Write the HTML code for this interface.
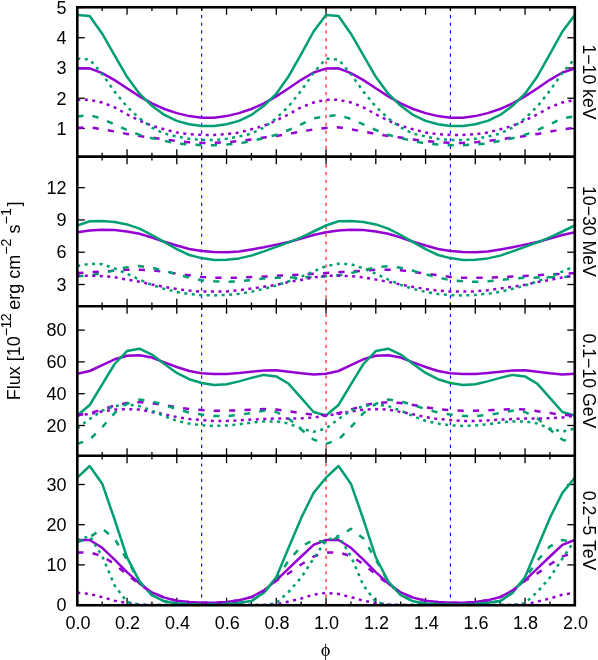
<!DOCTYPE html>
<html><head><meta charset="utf-8"><title>Flux</title>
<style>html,body{margin:0;padding:0;background:#fff}body{width:598px;height:660px;overflow:hidden}</style></head>
<body>
<svg width="598" height="660" viewBox="0 0 598 660" style="display:block;will-change:transform;font-family:'Liberation Sans',sans-serif;font-size:18px">
<rect width="598" height="660" fill="#fff"/>
<clipPath id="c0"><rect x="77.3" y="7.25" width="497.5" height="149.4"/></clipPath>
<clipPath id="c1"><rect x="77.3" y="156.65" width="497.5" height="149.55"/></clipPath>
<clipPath id="c2"><rect x="77.3" y="306.2" width="497.5" height="149.5"/></clipPath>
<clipPath id="c3"><rect x="77.3" y="455.7" width="497.5" height="149.55"/></clipPath>
<line x1="201.67" y1="7.25" x2="201.67" y2="156.65" stroke="#0000ff" stroke-width="1.1" stroke-dasharray="3.2 4.5"/>
<line x1="326.05" y1="7.25" x2="326.05" y2="156.65" stroke="#ff0000" stroke-width="1.1" stroke-dasharray="3.2 4.5"/>
<line x1="450.42" y1="7.25" x2="450.42" y2="156.65" stroke="#0000ff" stroke-width="1.1" stroke-dasharray="3.2 4.5"/>
<line x1="201.67" y1="156.65" x2="201.67" y2="306.2" stroke="#0000ff" stroke-width="1.1" stroke-dasharray="3.2 4.5"/>
<line x1="326.05" y1="156.65" x2="326.05" y2="306.2" stroke="#ff0000" stroke-width="1.1" stroke-dasharray="3.2 4.5"/>
<line x1="450.42" y1="156.65" x2="450.42" y2="306.2" stroke="#0000ff" stroke-width="1.1" stroke-dasharray="3.2 4.5"/>
<line x1="201.67" y1="306.2" x2="201.67" y2="455.7" stroke="#0000ff" stroke-width="1.1" stroke-dasharray="3.2 4.5"/>
<line x1="326.05" y1="306.2" x2="326.05" y2="455.7" stroke="#ff0000" stroke-width="1.1" stroke-dasharray="3.2 4.5"/>
<line x1="450.42" y1="306.2" x2="450.42" y2="455.7" stroke="#0000ff" stroke-width="1.1" stroke-dasharray="3.2 4.5"/>
<line x1="201.67" y1="455.7" x2="201.67" y2="605.25" stroke="#0000ff" stroke-width="1.1" stroke-dasharray="3.2 4.5"/>
<line x1="326.05" y1="455.7" x2="326.05" y2="605.25" stroke="#ff0000" stroke-width="1.1" stroke-dasharray="3.2 4.5"/>
<line x1="450.42" y1="455.7" x2="450.42" y2="605.25" stroke="#0000ff" stroke-width="1.1" stroke-dasharray="3.2 4.5"/>
<g stroke="#000" stroke-width="1.3">
<line x1="77.30" y1="7.25" x2="77.30" y2="14.75"/>
<line x1="77.30" y1="156.65" x2="77.30" y2="149.15"/>
<line x1="102.17" y1="7.25" x2="102.17" y2="11.05"/>
<line x1="102.17" y1="156.65" x2="102.17" y2="152.85"/>
<line x1="127.05" y1="7.25" x2="127.05" y2="14.75"/>
<line x1="127.05" y1="156.65" x2="127.05" y2="149.15"/>
<line x1="151.93" y1="7.25" x2="151.93" y2="11.05"/>
<line x1="151.93" y1="156.65" x2="151.93" y2="152.85"/>
<line x1="176.80" y1="7.25" x2="176.80" y2="14.75"/>
<line x1="176.80" y1="156.65" x2="176.80" y2="149.15"/>
<line x1="201.67" y1="7.25" x2="201.67" y2="11.05"/>
<line x1="201.67" y1="156.65" x2="201.67" y2="152.85"/>
<line x1="226.55" y1="7.25" x2="226.55" y2="14.75"/>
<line x1="226.55" y1="156.65" x2="226.55" y2="149.15"/>
<line x1="251.43" y1="7.25" x2="251.43" y2="11.05"/>
<line x1="251.43" y1="156.65" x2="251.43" y2="152.85"/>
<line x1="276.30" y1="7.25" x2="276.30" y2="14.75"/>
<line x1="276.30" y1="156.65" x2="276.30" y2="149.15"/>
<line x1="301.17" y1="7.25" x2="301.17" y2="11.05"/>
<line x1="301.17" y1="156.65" x2="301.17" y2="152.85"/>
<line x1="326.05" y1="7.25" x2="326.05" y2="14.75"/>
<line x1="326.05" y1="156.65" x2="326.05" y2="149.15"/>
<line x1="350.93" y1="7.25" x2="350.93" y2="11.05"/>
<line x1="350.93" y1="156.65" x2="350.93" y2="152.85"/>
<line x1="375.80" y1="7.25" x2="375.80" y2="14.75"/>
<line x1="375.80" y1="156.65" x2="375.80" y2="149.15"/>
<line x1="400.68" y1="7.25" x2="400.68" y2="11.05"/>
<line x1="400.68" y1="156.65" x2="400.68" y2="152.85"/>
<line x1="425.55" y1="7.25" x2="425.55" y2="14.75"/>
<line x1="425.55" y1="156.65" x2="425.55" y2="149.15"/>
<line x1="450.42" y1="7.25" x2="450.42" y2="11.05"/>
<line x1="450.42" y1="156.65" x2="450.42" y2="152.85"/>
<line x1="475.30" y1="7.25" x2="475.30" y2="14.75"/>
<line x1="475.30" y1="156.65" x2="475.30" y2="149.15"/>
<line x1="500.18" y1="7.25" x2="500.18" y2="11.05"/>
<line x1="500.18" y1="156.65" x2="500.18" y2="152.85"/>
<line x1="525.05" y1="7.25" x2="525.05" y2="14.75"/>
<line x1="525.05" y1="156.65" x2="525.05" y2="149.15"/>
<line x1="549.92" y1="7.25" x2="549.92" y2="11.05"/>
<line x1="549.92" y1="156.65" x2="549.92" y2="152.85"/>
<line x1="574.80" y1="7.25" x2="574.80" y2="14.75"/>
<line x1="574.80" y1="156.65" x2="574.80" y2="149.15"/>
<line x1="77.30" y1="156.65" x2="77.30" y2="164.15"/>
<line x1="77.30" y1="306.2" x2="77.30" y2="298.7"/>
<line x1="102.17" y1="156.65" x2="102.17" y2="160.45"/>
<line x1="102.17" y1="306.2" x2="102.17" y2="302.4"/>
<line x1="127.05" y1="156.65" x2="127.05" y2="164.15"/>
<line x1="127.05" y1="306.2" x2="127.05" y2="298.7"/>
<line x1="151.93" y1="156.65" x2="151.93" y2="160.45"/>
<line x1="151.93" y1="306.2" x2="151.93" y2="302.4"/>
<line x1="176.80" y1="156.65" x2="176.80" y2="164.15"/>
<line x1="176.80" y1="306.2" x2="176.80" y2="298.7"/>
<line x1="201.67" y1="156.65" x2="201.67" y2="160.45"/>
<line x1="201.67" y1="306.2" x2="201.67" y2="302.4"/>
<line x1="226.55" y1="156.65" x2="226.55" y2="164.15"/>
<line x1="226.55" y1="306.2" x2="226.55" y2="298.7"/>
<line x1="251.43" y1="156.65" x2="251.43" y2="160.45"/>
<line x1="251.43" y1="306.2" x2="251.43" y2="302.4"/>
<line x1="276.30" y1="156.65" x2="276.30" y2="164.15"/>
<line x1="276.30" y1="306.2" x2="276.30" y2="298.7"/>
<line x1="301.17" y1="156.65" x2="301.17" y2="160.45"/>
<line x1="301.17" y1="306.2" x2="301.17" y2="302.4"/>
<line x1="326.05" y1="156.65" x2="326.05" y2="164.15"/>
<line x1="326.05" y1="306.2" x2="326.05" y2="298.7"/>
<line x1="350.93" y1="156.65" x2="350.93" y2="160.45"/>
<line x1="350.93" y1="306.2" x2="350.93" y2="302.4"/>
<line x1="375.80" y1="156.65" x2="375.80" y2="164.15"/>
<line x1="375.80" y1="306.2" x2="375.80" y2="298.7"/>
<line x1="400.68" y1="156.65" x2="400.68" y2="160.45"/>
<line x1="400.68" y1="306.2" x2="400.68" y2="302.4"/>
<line x1="425.55" y1="156.65" x2="425.55" y2="164.15"/>
<line x1="425.55" y1="306.2" x2="425.55" y2="298.7"/>
<line x1="450.42" y1="156.65" x2="450.42" y2="160.45"/>
<line x1="450.42" y1="306.2" x2="450.42" y2="302.4"/>
<line x1="475.30" y1="156.65" x2="475.30" y2="164.15"/>
<line x1="475.30" y1="306.2" x2="475.30" y2="298.7"/>
<line x1="500.18" y1="156.65" x2="500.18" y2="160.45"/>
<line x1="500.18" y1="306.2" x2="500.18" y2="302.4"/>
<line x1="525.05" y1="156.65" x2="525.05" y2="164.15"/>
<line x1="525.05" y1="306.2" x2="525.05" y2="298.7"/>
<line x1="549.92" y1="156.65" x2="549.92" y2="160.45"/>
<line x1="549.92" y1="306.2" x2="549.92" y2="302.4"/>
<line x1="574.80" y1="156.65" x2="574.80" y2="164.15"/>
<line x1="574.80" y1="306.2" x2="574.80" y2="298.7"/>
<line x1="77.30" y1="306.2" x2="77.30" y2="313.7"/>
<line x1="77.30" y1="455.7" x2="77.30" y2="448.2"/>
<line x1="102.17" y1="306.2" x2="102.17" y2="310"/>
<line x1="102.17" y1="455.7" x2="102.17" y2="451.9"/>
<line x1="127.05" y1="306.2" x2="127.05" y2="313.7"/>
<line x1="127.05" y1="455.7" x2="127.05" y2="448.2"/>
<line x1="151.93" y1="306.2" x2="151.93" y2="310"/>
<line x1="151.93" y1="455.7" x2="151.93" y2="451.9"/>
<line x1="176.80" y1="306.2" x2="176.80" y2="313.7"/>
<line x1="176.80" y1="455.7" x2="176.80" y2="448.2"/>
<line x1="201.67" y1="306.2" x2="201.67" y2="310"/>
<line x1="201.67" y1="455.7" x2="201.67" y2="451.9"/>
<line x1="226.55" y1="306.2" x2="226.55" y2="313.7"/>
<line x1="226.55" y1="455.7" x2="226.55" y2="448.2"/>
<line x1="251.43" y1="306.2" x2="251.43" y2="310"/>
<line x1="251.43" y1="455.7" x2="251.43" y2="451.9"/>
<line x1="276.30" y1="306.2" x2="276.30" y2="313.7"/>
<line x1="276.30" y1="455.7" x2="276.30" y2="448.2"/>
<line x1="301.17" y1="306.2" x2="301.17" y2="310"/>
<line x1="301.17" y1="455.7" x2="301.17" y2="451.9"/>
<line x1="326.05" y1="306.2" x2="326.05" y2="313.7"/>
<line x1="326.05" y1="455.7" x2="326.05" y2="448.2"/>
<line x1="350.93" y1="306.2" x2="350.93" y2="310"/>
<line x1="350.93" y1="455.7" x2="350.93" y2="451.9"/>
<line x1="375.80" y1="306.2" x2="375.80" y2="313.7"/>
<line x1="375.80" y1="455.7" x2="375.80" y2="448.2"/>
<line x1="400.68" y1="306.2" x2="400.68" y2="310"/>
<line x1="400.68" y1="455.7" x2="400.68" y2="451.9"/>
<line x1="425.55" y1="306.2" x2="425.55" y2="313.7"/>
<line x1="425.55" y1="455.7" x2="425.55" y2="448.2"/>
<line x1="450.42" y1="306.2" x2="450.42" y2="310"/>
<line x1="450.42" y1="455.7" x2="450.42" y2="451.9"/>
<line x1="475.30" y1="306.2" x2="475.30" y2="313.7"/>
<line x1="475.30" y1="455.7" x2="475.30" y2="448.2"/>
<line x1="500.18" y1="306.2" x2="500.18" y2="310"/>
<line x1="500.18" y1="455.7" x2="500.18" y2="451.9"/>
<line x1="525.05" y1="306.2" x2="525.05" y2="313.7"/>
<line x1="525.05" y1="455.7" x2="525.05" y2="448.2"/>
<line x1="549.92" y1="306.2" x2="549.92" y2="310"/>
<line x1="549.92" y1="455.7" x2="549.92" y2="451.9"/>
<line x1="574.80" y1="306.2" x2="574.80" y2="313.7"/>
<line x1="574.80" y1="455.7" x2="574.80" y2="448.2"/>
<line x1="77.30" y1="455.7" x2="77.30" y2="463.2"/>
<line x1="77.30" y1="605.25" x2="77.30" y2="597.75"/>
<line x1="102.17" y1="455.7" x2="102.17" y2="459.5"/>
<line x1="102.17" y1="605.25" x2="102.17" y2="601.45"/>
<line x1="127.05" y1="455.7" x2="127.05" y2="463.2"/>
<line x1="127.05" y1="605.25" x2="127.05" y2="597.75"/>
<line x1="151.93" y1="455.7" x2="151.93" y2="459.5"/>
<line x1="151.93" y1="605.25" x2="151.93" y2="601.45"/>
<line x1="176.80" y1="455.7" x2="176.80" y2="463.2"/>
<line x1="176.80" y1="605.25" x2="176.80" y2="597.75"/>
<line x1="201.67" y1="455.7" x2="201.67" y2="459.5"/>
<line x1="201.67" y1="605.25" x2="201.67" y2="601.45"/>
<line x1="226.55" y1="455.7" x2="226.55" y2="463.2"/>
<line x1="226.55" y1="605.25" x2="226.55" y2="597.75"/>
<line x1="251.43" y1="455.7" x2="251.43" y2="459.5"/>
<line x1="251.43" y1="605.25" x2="251.43" y2="601.45"/>
<line x1="276.30" y1="455.7" x2="276.30" y2="463.2"/>
<line x1="276.30" y1="605.25" x2="276.30" y2="597.75"/>
<line x1="301.17" y1="455.7" x2="301.17" y2="459.5"/>
<line x1="301.17" y1="605.25" x2="301.17" y2="601.45"/>
<line x1="326.05" y1="455.7" x2="326.05" y2="463.2"/>
<line x1="326.05" y1="605.25" x2="326.05" y2="597.75"/>
<line x1="350.93" y1="455.7" x2="350.93" y2="459.5"/>
<line x1="350.93" y1="605.25" x2="350.93" y2="601.45"/>
<line x1="375.80" y1="455.7" x2="375.80" y2="463.2"/>
<line x1="375.80" y1="605.25" x2="375.80" y2="597.75"/>
<line x1="400.68" y1="455.7" x2="400.68" y2="459.5"/>
<line x1="400.68" y1="605.25" x2="400.68" y2="601.45"/>
<line x1="425.55" y1="455.7" x2="425.55" y2="463.2"/>
<line x1="425.55" y1="605.25" x2="425.55" y2="597.75"/>
<line x1="450.42" y1="455.7" x2="450.42" y2="459.5"/>
<line x1="450.42" y1="605.25" x2="450.42" y2="601.45"/>
<line x1="475.30" y1="455.7" x2="475.30" y2="463.2"/>
<line x1="475.30" y1="605.25" x2="475.30" y2="597.75"/>
<line x1="500.18" y1="455.7" x2="500.18" y2="459.5"/>
<line x1="500.18" y1="605.25" x2="500.18" y2="601.45"/>
<line x1="525.05" y1="455.7" x2="525.05" y2="463.2"/>
<line x1="525.05" y1="605.25" x2="525.05" y2="597.75"/>
<line x1="549.92" y1="455.7" x2="549.92" y2="459.5"/>
<line x1="549.92" y1="605.25" x2="549.92" y2="601.45"/>
<line x1="574.80" y1="455.7" x2="574.80" y2="463.2"/>
<line x1="574.80" y1="605.25" x2="574.80" y2="597.75"/>
<line x1="77.3" y1="128.50" x2="84.8" y2="128.50"/>
<line x1="574.8" y1="128.50" x2="567.3" y2="128.50"/>
<line x1="77.3" y1="98.25" x2="84.8" y2="98.25"/>
<line x1="574.8" y1="98.25" x2="567.3" y2="98.25"/>
<line x1="77.3" y1="68.00" x2="84.8" y2="68.00"/>
<line x1="574.8" y1="68.00" x2="567.3" y2="68.00"/>
<line x1="77.3" y1="37.75" x2="84.8" y2="37.75"/>
<line x1="574.8" y1="37.75" x2="567.3" y2="37.75"/>
<line x1="77.3" y1="7.50" x2="84.8" y2="7.50"/>
<line x1="574.8" y1="7.50" x2="567.3" y2="7.50"/>
<line x1="77.3" y1="284.50" x2="84.8" y2="284.50"/>
<line x1="574.8" y1="284.50" x2="567.3" y2="284.50"/>
<line x1="77.3" y1="252.22" x2="84.8" y2="252.22"/>
<line x1="574.8" y1="252.22" x2="567.3" y2="252.22"/>
<line x1="77.3" y1="219.94" x2="84.8" y2="219.94"/>
<line x1="574.8" y1="219.94" x2="567.3" y2="219.94"/>
<line x1="77.3" y1="187.66" x2="84.8" y2="187.66"/>
<line x1="574.8" y1="187.66" x2="567.3" y2="187.66"/>
<line x1="77.3" y1="425.49" x2="84.8" y2="425.49"/>
<line x1="574.8" y1="425.49" x2="567.3" y2="425.49"/>
<line x1="77.3" y1="393.69" x2="84.8" y2="393.69"/>
<line x1="574.8" y1="393.69" x2="567.3" y2="393.69"/>
<line x1="77.3" y1="361.89" x2="84.8" y2="361.89"/>
<line x1="574.8" y1="361.89" x2="567.3" y2="361.89"/>
<line x1="77.3" y1="330.09" x2="84.8" y2="330.09"/>
<line x1="574.8" y1="330.09" x2="567.3" y2="330.09"/>
<line x1="77.3" y1="605.10" x2="84.8" y2="605.10"/>
<line x1="574.8" y1="605.10" x2="567.3" y2="605.10"/>
<line x1="77.3" y1="564.90" x2="84.8" y2="564.90"/>
<line x1="574.8" y1="564.90" x2="567.3" y2="564.90"/>
<line x1="77.3" y1="524.70" x2="84.8" y2="524.70"/>
<line x1="574.8" y1="524.70" x2="567.3" y2="524.70"/>
<line x1="77.3" y1="484.50" x2="84.8" y2="484.50"/>
<line x1="574.8" y1="484.50" x2="567.3" y2="484.50"/>
</g>
<g clip-path="url(#c0)" fill="none" stroke-width="2.5" stroke-linejoin="round">
<polyline points="77.3,68.6 89.7,68.3 102.2,73.1 114.6,80.1 127.0,88.3 139.5,96.4 151.9,103.4 164.4,109.0 176.8,113.1 189.2,116.1 201.7,117.8 214.1,117.8 226.6,116.1 239.0,113.1 251.4,109.0 263.9,103.4 276.3,96.4 288.7,88.3 301.2,79.8 313.6,72.5 326.0,68.6 338.5,68.3 350.9,73.1 363.4,80.1 375.8,88.3 388.2,96.4 400.7,103.4 413.1,109.0 425.6,113.1 438.0,116.1 450.4,117.8 462.9,117.8 475.3,116.1 487.7,113.1 500.2,109.0 512.6,103.4 525.0,96.4 537.5,88.3 549.9,79.8 562.4,72.5 574.8,68.6" stroke="#9400d3"/>
<polyline points="77.3,15.1 89.7,16.0 102.2,33.7 114.6,55.3 127.0,76.8 139.5,93.7 151.9,105.8 164.4,114.9 176.8,120.9 189.2,124.3 201.7,126.1 214.1,126.1 226.6,124.3 239.0,120.9 251.4,114.9 263.9,105.8 276.3,93.7 288.7,76.2 301.2,54.2 313.6,31.5 326.0,15.1 338.5,16.0 350.9,33.7 363.4,55.3 375.8,76.8 388.2,93.7 400.7,105.8 413.1,114.9 425.6,120.9 438.0,124.3 450.4,126.1 462.9,126.1 475.3,124.3 487.7,120.9 500.2,114.9 512.6,105.8 525.0,93.7 537.5,76.2 549.9,54.2 562.4,31.5 574.8,15.1" stroke="#009e73"/>
<polyline points="77.3,127.9 89.7,127.3 102.2,129.4 114.6,131.5 127.0,133.9 139.5,136.1 151.9,137.6 164.4,139.4 176.8,141.1 189.2,142.2 201.7,142.9 214.1,142.9 226.6,142.2 239.0,141.1 251.4,139.4 263.9,137.6 276.3,136.1 288.7,133.9 301.2,131.5 313.6,129.4 326.0,127.9 338.5,127.3 350.9,129.4 363.4,131.5 375.8,133.9 388.2,136.1 400.7,137.6 413.1,139.4 425.6,141.1 438.0,142.2 450.4,142.9 462.9,142.9 475.3,142.2 487.7,141.1 500.2,139.4 512.6,137.6 525.0,136.1 537.5,133.9 549.9,131.5 562.4,129.4 574.8,127.9" stroke="#9400d3" stroke-dasharray="6.2 9.2"/>
<polyline points="77.3,116.4 89.7,115.0 102.2,119.0 114.6,124.3 127.0,130.0 139.5,134.8 151.9,138.2 164.4,140.9 176.8,143.6 189.2,144.5 201.7,145.2 214.1,145.2 226.6,144.5 239.0,143.6 251.4,140.9 263.9,138.2 276.3,134.8 288.7,130.0 301.2,124.3 313.6,118.4 326.0,116.4 338.5,115.0 350.9,119.0 363.4,124.3 375.8,130.0 388.2,134.8 400.7,138.2 413.1,140.9 425.6,143.6 438.0,144.5 450.4,145.2 462.9,145.2 475.3,144.5 487.7,143.6 500.2,140.9 512.6,138.2 525.0,134.8 537.5,130.0 549.9,124.3 562.4,118.4 574.8,116.4" stroke="#009e73" stroke-dasharray="6.2 9.2"/>
<polyline points="77.3,99.8 89.7,99.8 102.2,102.5 114.6,107.3 127.0,114.3 139.5,120.5 151.9,125.8 164.4,129.3 176.8,132.6 189.2,134.2 201.7,134.9 214.1,134.9 226.6,134.2 239.0,132.6 251.4,129.3 263.9,125.8 276.3,120.5 288.7,114.3 301.2,107.3 313.6,102.5 326.0,99.8 338.5,99.8 350.9,102.5 363.4,107.3 375.8,114.3 388.2,120.5 400.7,125.8 413.1,129.3 425.6,132.6 438.0,134.2 450.4,134.9 462.9,134.9 475.3,134.2 487.7,132.6 500.2,129.3 512.6,125.8 525.0,120.5 537.5,114.3 549.9,107.3 562.4,102.5 574.8,99.8" stroke="#9400d3" stroke-dasharray="3 4.5"/>
<polyline points="77.3,58.6 89.7,59.5 102.2,74.1 114.6,91.6 127.0,106.7 139.5,118.3 151.9,127.6 164.4,133.6 176.8,136.5 189.2,138.8 201.7,140.0 214.1,140.0 226.6,138.8 239.0,136.5 251.4,133.6 263.9,127.6 276.3,118.3 288.7,106.3 301.2,90.7 313.6,72.8 326.0,58.6 338.5,59.5 350.9,74.1 363.4,91.6 375.8,106.7 388.2,118.3 400.7,127.6 413.1,133.6 425.6,136.5 438.0,138.8 450.4,140.0 462.9,140.0 475.3,138.8 487.7,136.5 500.2,133.6 512.6,127.6 525.0,118.3 537.5,106.3 549.9,90.7 562.4,72.8 574.8,58.6" stroke="#009e73" stroke-dasharray="3 4.5"/>
</g>
<g clip-path="url(#c1)" fill="none" stroke-width="2.5" stroke-linejoin="round">
<polyline points="77.3,232.2 89.7,230.5 102.2,229.8 114.6,230.1 127.0,231.5 139.5,233.8 151.9,237.5 164.4,241.8 176.8,245.5 189.2,249.0 201.7,251.1 214.1,252.0 226.6,252.3 239.0,251.6 251.4,249.5 263.9,247.2 276.3,244.6 288.7,242.0 301.2,238.6 313.6,235.0 326.0,232.2 338.5,230.5 350.9,229.8 363.4,230.1 375.8,231.5 388.2,233.8 400.7,237.5 413.1,241.8 425.6,245.5 438.0,249.0 450.4,251.1 462.9,252.0 475.3,252.3 487.7,251.6 500.2,249.5 512.6,247.2 525.0,244.6 537.5,242.0 549.9,238.6 562.4,235.0 574.8,232.2" stroke="#9400d3"/>
<polyline points="77.3,225.5 89.7,221.2 102.2,221.1 114.6,222.0 127.0,224.4 139.5,228.6 151.9,235.0 164.4,242.2 176.8,249.2 189.2,255.0 201.7,258.1 214.1,260.1 226.6,259.8 239.0,258.4 251.4,255.6 263.9,251.4 276.3,246.9 288.7,242.4 301.2,237.3 313.6,231.5 326.0,225.5 338.5,221.2 350.9,221.1 363.4,222.0 375.8,224.4 388.2,228.6 400.7,235.0 413.1,242.2 425.6,249.2 438.0,255.0 450.4,258.1 462.9,260.1 475.3,259.8 487.7,258.4 500.2,255.6 512.6,251.4 525.0,246.9 537.5,242.4 549.9,237.3 562.4,231.5 574.8,225.5" stroke="#009e73"/>
<polyline points="77.3,273.1 89.7,272.2 102.2,271.5 114.6,270.7 127.0,269.7 139.5,269.7 151.9,270.3 164.4,271.9 176.8,273.6 189.2,275.2 201.7,276.9 214.1,277.8 226.6,277.8 239.0,277.6 251.4,277.1 263.9,276.6 276.3,275.9 288.7,275.2 301.2,274.5 313.6,273.8 326.0,273.1 338.5,272.2 350.9,271.5 363.4,270.7 375.8,269.7 388.2,269.7 400.7,270.3 413.1,271.9 425.6,273.6 438.0,275.2 450.4,276.9 462.9,277.8 475.3,277.8 487.7,277.6 500.2,277.1 512.6,276.6 525.0,275.9 537.5,275.2 549.9,274.5 562.4,273.8 574.8,273.1" stroke="#9400d3" stroke-dasharray="6.2 9.2"/>
<polyline points="77.3,276.3 89.7,275.4 102.2,273.1 114.6,270.3 127.0,267.3 139.5,266.1 151.9,267.7 164.4,270.8 176.8,274.3 189.2,277.6 201.7,280.2 214.1,281.3 226.6,281.8 239.0,281.3 251.4,280.0 263.9,278.5 276.3,277.8 288.7,277.6 301.2,277.3 313.6,277.1 326.0,276.3 338.5,275.4 350.9,273.1 363.4,270.3 375.8,267.3 388.2,266.1 400.7,267.7 413.1,270.8 425.6,274.3 438.0,277.6 450.4,280.2 462.9,281.3 475.3,281.8 487.7,281.3 500.2,280.0 512.6,278.5 525.0,277.8 537.5,277.6 549.9,277.3 562.4,277.1 574.8,276.3" stroke="#009e73" stroke-dasharray="6.2 9.2"/>
<polyline points="77.3,275.7 89.7,275.7 102.2,276.2 114.6,277.2 127.0,279.6 139.5,281.8 151.9,284.5 164.4,286.9 176.8,289.1 189.2,290.6 201.7,291.6 214.1,291.5 226.6,291.4 239.0,290.2 251.4,288.5 263.9,286.7 276.3,284.8 288.7,282.0 301.2,279.9 313.6,277.5 326.0,275.7 338.5,275.7 350.9,276.2 363.4,277.2 375.8,279.6 388.2,281.8 400.7,284.5 413.1,286.9 425.6,289.1 438.0,290.6 450.4,291.6 462.9,291.5 475.3,291.4 487.7,290.2 500.2,288.5 512.6,286.7 525.0,284.8 537.5,282.0 549.9,279.9 562.4,277.5 574.8,275.7" stroke="#9400d3" stroke-dasharray="3 4.5"/>
<polyline points="77.3,266.1 89.7,263.7 102.2,264.2 114.6,268.4 127.0,273.7 139.5,279.6 151.9,284.9 164.4,288.9 176.8,291.9 189.2,294.0 201.7,295.2 214.1,295.4 226.6,294.9 239.0,293.8 251.4,291.8 263.9,288.8 276.3,285.6 288.7,281.3 301.2,276.6 313.6,271.5 326.0,266.1 338.5,263.7 350.9,264.2 363.4,268.4 375.8,273.7 388.2,279.6 400.7,284.9 413.1,288.9 425.6,291.9 438.0,294.0 450.4,295.2 462.9,295.4 475.3,294.9 487.7,293.8 500.2,291.8 512.6,288.8 525.0,285.6 537.5,281.3 549.9,276.6 562.4,271.5 574.8,266.1" stroke="#009e73" stroke-dasharray="3 4.5"/>
</g>
<g clip-path="url(#c2)" fill="none" stroke-width="2.5" stroke-linejoin="round">
<polyline points="77.3,373.8 89.7,371.0 102.2,365.1 114.6,359.3 127.0,355.7 139.5,355.2 151.9,357.6 164.4,362.4 176.8,367.0 189.2,371.0 201.7,373.2 214.1,374.0 226.6,374.0 239.0,373.0 251.4,371.7 263.9,370.5 276.3,370.3 288.7,371.7 301.2,373.3 313.6,374.5 326.0,373.8 338.5,371.0 350.9,365.1 363.4,359.3 375.8,355.7 388.2,355.2 400.7,357.6 413.1,362.4 425.6,367.0 438.0,371.0 450.4,373.2 462.9,374.0 475.3,374.0 487.7,373.0 500.2,371.7 512.6,370.5 525.0,370.3 537.5,371.7 549.9,373.3 562.4,374.5 574.8,373.8" stroke="#9400d3"/>
<polyline points="77.3,415.5 89.7,405.0 102.2,384.3 114.6,364.0 127.0,351.1 139.5,348.7 151.9,354.6 164.4,364.0 176.8,372.9 189.2,379.2 201.7,383.0 214.1,385.0 226.6,384.3 239.0,381.4 251.4,377.9 263.9,374.9 276.3,376.4 288.7,383.8 301.2,397.8 313.6,412.0 326.0,415.5 338.5,405.0 350.9,384.3 363.4,364.0 375.8,351.1 388.2,348.7 400.7,354.6 413.1,364.0 425.6,372.9 438.0,379.2 450.4,383.0 462.9,385.0 475.3,384.3 487.7,381.4 500.2,377.9 512.6,374.9 525.0,376.4 537.5,383.8 549.9,397.8 562.4,412.0 574.8,415.5" stroke="#009e73"/>
<polyline points="77.3,415.3 89.7,413.1 102.2,409.6 114.6,405.5 127.0,403.1 139.5,402.1 151.9,403.1 164.4,405.0 176.8,407.2 189.2,409.1 201.7,410.1 214.1,410.7 226.6,410.7 239.0,410.3 251.4,409.6 263.9,409.1 276.3,409.6 288.7,411.2 301.2,413.1 313.6,414.8 326.0,415.3 338.5,413.1 350.9,409.6 363.4,405.5 375.8,403.1 388.2,402.1 400.7,403.1 413.1,405.0 425.6,407.2 438.0,409.1 450.4,410.1 462.9,410.7 475.3,410.7 487.7,410.3 500.2,409.6 512.6,409.1 525.0,409.6 537.5,411.2 549.9,413.1 562.4,414.8 574.8,415.3" stroke="#9400d3" stroke-dasharray="6.2 9.2"/>
<polyline points="77.3,443.9 89.7,439.6 102.2,427.2 114.6,413.1 127.0,403.7 139.5,399.6 151.9,401.4 164.4,405.0 176.8,409.1 189.2,412.5 201.7,414.5 214.1,416.1 226.6,416.1 239.0,414.8 251.4,413.1 263.9,410.7 276.3,412.0 288.7,418.5 301.2,429.5 313.6,439.6 326.0,443.9 338.5,439.6 350.9,427.2 363.4,413.1 375.8,403.7 388.2,399.6 400.7,401.4 413.1,405.0 425.6,409.1 438.0,412.5 450.4,414.5 462.9,416.1 475.3,416.1 487.7,414.8 500.2,413.1 512.6,410.7 525.0,412.0 537.5,418.5 549.9,429.5 562.4,439.6 574.8,443.9" stroke="#009e73" stroke-dasharray="6.2 9.2"/>
<polyline points="77.3,415.5 89.7,413.9 102.2,411.5 114.6,409.6 127.0,409.1 139.5,409.6 151.9,412.0 164.4,414.3 176.8,417.1 189.2,419.0 201.7,420.1 214.1,420.9 226.6,420.9 239.0,420.4 251.4,419.6 263.9,419.0 276.3,418.5 288.7,418.5 301.2,418.3 313.6,417.5 326.0,415.5 338.5,413.9 350.9,411.5 363.4,409.6 375.8,409.1 388.2,409.6 400.7,412.0 413.1,414.3 425.6,417.1 438.0,419.0 450.4,420.1 462.9,420.9 475.3,420.9 487.7,420.4 500.2,419.6 512.6,419.0 525.0,418.5 537.5,418.5 549.9,418.3 562.4,417.5 574.8,415.5" stroke="#9400d3" stroke-dasharray="3 4.5"/>
<polyline points="77.3,428.4 89.7,419.0 102.2,410.7 114.6,406.1 127.0,404.5 139.5,406.1 151.9,410.7 164.4,416.1 176.8,420.9 189.2,423.6 201.7,425.3 214.1,426.0 226.6,425.5 239.0,424.4 251.4,422.5 263.9,421.4 276.3,421.4 288.7,423.6 301.2,428.4 313.6,431.8 326.0,428.4 338.5,419.0 350.9,410.7 363.4,406.1 375.8,404.5 388.2,406.1 400.7,410.7 413.1,416.1 425.6,420.9 438.0,423.6 450.4,425.3 462.9,426.0 475.3,425.5 487.7,424.4 500.2,422.5 512.6,421.4 525.0,421.4 537.5,423.6 549.9,428.4 562.4,431.8 574.8,428.4" stroke="#009e73" stroke-dasharray="3 4.5"/>
</g>
<g clip-path="url(#c3)" fill="none" stroke-width="2.5" stroke-linejoin="round">
<polyline points="77.3,540.0 89.7,540.0 102.2,547.8 114.6,559.7 127.0,572.1 139.5,583.4 151.9,592.4 164.4,597.6 176.8,600.7 189.2,602.1 201.7,602.8 214.1,602.8 226.6,602.1 239.0,600.3 251.4,597.1 263.9,590.4 276.3,580.4 288.7,568.3 301.2,556.5 313.6,544.8 326.0,540.0 338.5,540.0 350.9,547.8 363.4,559.7 375.8,572.1 388.2,583.4 400.7,592.4 413.1,597.6 425.6,600.7 438.0,602.1 450.4,602.8 462.9,602.8 475.3,602.1 487.7,600.3 500.2,597.1 512.6,590.4 525.0,580.4 537.5,568.3 549.9,556.5 562.4,544.8 574.8,540.0" stroke="#9400d3"/>
<polyline points="77.3,477.7 89.7,466.0 102.2,483.7 114.6,519.5 127.0,557.3 139.5,581.4 151.9,595.1 164.4,601.3 176.8,603.5 189.2,604.1 201.7,604.5 214.1,604.5 226.6,603.9 239.0,602.7 251.4,601.1 263.9,592.6 276.3,577.2 288.7,547.6 301.2,517.9 313.6,492.9 326.0,477.7 338.5,466.0 350.9,483.7 363.4,519.5 375.8,557.3 388.2,581.4 400.7,595.1 413.1,601.3 425.6,603.5 438.0,604.1 450.4,604.5 462.9,604.5 475.3,603.9 487.7,602.7 500.2,601.1 512.6,592.6 525.0,577.2 537.5,547.6 549.9,517.9 562.4,492.9 574.8,477.7" stroke="#009e73"/>
<polyline points="77.3,552.4 89.7,552.4 102.2,556.1 114.6,564.1 127.0,574.5 139.5,584.2 151.9,592.4 164.4,597.6 176.8,600.7 189.2,602.1 201.7,602.8 214.1,602.8 226.6,602.1 239.0,600.3 251.4,597.1 263.9,590.8 276.3,580.8 288.7,573.3 301.2,564.5 313.6,556.5 326.0,552.4 338.5,552.4 350.9,556.1 363.4,564.1 375.8,574.5 388.2,584.2 400.7,592.4 413.1,597.6 425.6,600.7 438.0,602.1 450.4,602.8 462.9,602.8 475.3,602.1 487.7,600.3 500.2,597.1 512.6,590.8 525.0,580.8 537.5,573.3 549.9,564.5 562.4,556.5 574.8,552.4" stroke="#9400d3" stroke-dasharray="6.2 9.2"/>
<polyline points="77.3,542.4 89.7,537.2 102.2,528.7 114.6,538.4 127.0,559.7 139.5,581.8 151.9,595.1 164.4,601.3 176.8,603.5 189.2,604.1 201.7,604.5 214.1,604.5 226.6,603.9 239.0,602.7 251.4,601.1 263.9,592.6 276.3,578.4 288.7,560.5 301.2,546.4 313.6,540.0 326.0,542.4 338.5,537.2 350.9,528.7 363.4,538.4 375.8,559.7 388.2,581.8 400.7,595.1 413.1,601.3 425.6,603.5 438.0,604.1 450.4,604.5 462.9,604.5 475.3,603.9 487.7,602.7 500.2,601.1 512.6,592.6 525.0,578.4 537.5,560.5 549.9,546.4 562.4,540.0 574.8,542.4" stroke="#009e73" stroke-dasharray="6.2 9.2"/>
<polyline points="77.3,592.8 89.7,594.0 102.2,597.1 114.6,600.7 127.0,603.1 139.5,604.5 151.9,605.1 164.4,605.1 176.8,605.1 189.2,605.1 201.7,605.1 214.1,605.1 226.6,605.1 239.0,605.1 251.4,605.1 263.9,604.9 276.3,604.5 288.7,601.5 301.2,598.5 313.6,594.6 326.0,592.8 338.5,594.0 350.9,597.1 363.4,600.7 375.8,603.1 388.2,604.5 400.7,605.1 413.1,605.1 425.6,605.1 438.0,605.1 450.4,605.1 462.9,605.1 475.3,605.1 487.7,605.1 500.2,605.1 512.6,604.9 525.0,604.5 537.5,601.5 549.9,598.5 562.4,594.6 574.8,592.8" stroke="#9400d3" stroke-dasharray="3 4.5"/>
<polyline points="77.3,540.4 89.7,536.0 102.2,556.1 114.6,585.4 127.0,601.9 139.5,604.7 151.9,605.1 164.4,605.1 176.8,605.1 189.2,605.1 201.7,605.1 214.1,605.1 226.6,605.1 239.0,605.1 251.4,605.1 263.9,605.1 276.3,603.1 288.7,591.8 301.2,577.6 313.6,558.5 326.0,540.4 338.5,536.0 350.9,556.1 363.4,585.4 375.8,601.9 388.2,604.7 400.7,605.1 413.1,605.1 425.6,605.1 438.0,605.1 450.4,605.1 462.9,605.1 475.3,605.1 487.7,605.1 500.2,605.1 512.6,605.1 525.0,603.1 537.5,591.8 549.9,577.6 562.4,558.5 574.8,540.4" stroke="#009e73" stroke-dasharray="3 4.5"/>
</g>
<g stroke="#000" stroke-width="2.6" fill="none">
<rect x="77.3" y="7.25" width="497.5" height="598"/>
<line x1="77.3" y1="156.65" x2="574.8" y2="156.65"/>
<line x1="77.3" y1="306.2" x2="574.8" y2="306.2"/>
<line x1="77.3" y1="455.7" x2="574.8" y2="455.7"/>
</g>
<g fill="#000">
<text x="66.6" y="134.7" text-anchor="end">1</text>
<text x="66.6" y="104.5" text-anchor="end">2</text>
<text x="66.6" y="74.2" text-anchor="end">3</text>
<text x="66.6" y="44.0" text-anchor="end">4</text>
<text x="66.6" y="13.7" text-anchor="end">5</text>
<text x="66.6" y="290.7" text-anchor="end">3</text>
<text x="66.6" y="258.4" text-anchor="end">6</text>
<text x="66.6" y="226.1" text-anchor="end">9</text>
<text x="66.6" y="193.9" text-anchor="end">12</text>
<text x="66.6" y="431.7" text-anchor="end">20</text>
<text x="66.6" y="399.9" text-anchor="end">40</text>
<text x="66.6" y="368.1" text-anchor="end">60</text>
<text x="66.6" y="336.3" text-anchor="end">80</text>
<text x="66.6" y="611.3" text-anchor="end">0</text>
<text x="66.6" y="571.1" text-anchor="end">10</text>
<text x="66.6" y="530.9" text-anchor="end">20</text>
<text x="66.6" y="490.7" text-anchor="end">30</text>
<text x="77.9" y="629.4" text-anchor="middle">0.0</text>
<text x="127.6" y="629.4" text-anchor="middle">0.2</text>
<text x="177.4" y="629.4" text-anchor="middle">0.4</text>
<text x="227.2" y="629.4" text-anchor="middle">0.6</text>
<text x="276.9" y="629.4" text-anchor="middle">0.8</text>
<text x="326.6" y="629.4" text-anchor="middle">1.0</text>
<text x="376.4" y="629.4" text-anchor="middle">1.2</text>
<text x="426.2" y="629.4" text-anchor="middle">1.4</text>
<text x="475.9" y="629.4" text-anchor="middle">1.6</text>
<text x="525.6" y="629.4" text-anchor="middle">1.8</text>
<text x="575.4" y="629.4" text-anchor="middle">2.0</text>
<path fill-rule="evenodd" d="M321.40,651.60 a4.2,4.6 0 1,0 8.4,0 a4.2,4.6 0 1,0 -8.4,0 Z M323.15,651.60 a2.45,3.9 0 1,0 4.9,0 a2.45,3.9 0 1,0 -4.9,0 Z"/>
<line x1="325.60" y1="643.8" x2="325.60" y2="660" stroke="#222" stroke-width="1"/>
<text transform="translate(20,400.3) rotate(-90)" font-size="18">Flux [10<tspan dy="-9" font-size="14.4" letter-spacing="-0.7">−12</tspan><tspan dy="9" dx="-0.9"> erg cm</tspan><tspan dy="-9" font-size="14.4">−2</tspan><tspan dy="9"> s</tspan><tspan dy="-9" font-size="14.4">−1</tspan><tspan dy="9" dx="1.5">]</tspan></text>
<text transform="translate(583.4,82.0) rotate(90)" text-anchor="middle" font-size="17.65">1−10 keV</text>
<text transform="translate(583.4,231.4) rotate(90)" text-anchor="middle" font-size="17.65">10−30 MeV</text>
<text transform="translate(583.4,380.9) rotate(90)" text-anchor="middle" font-size="17.65">0.1−10 GeV</text>
<text transform="translate(583.4,530.5) rotate(90)" text-anchor="middle" font-size="17.65">0.2−5 TeV</text>
</g>
</svg>
</body></html>
